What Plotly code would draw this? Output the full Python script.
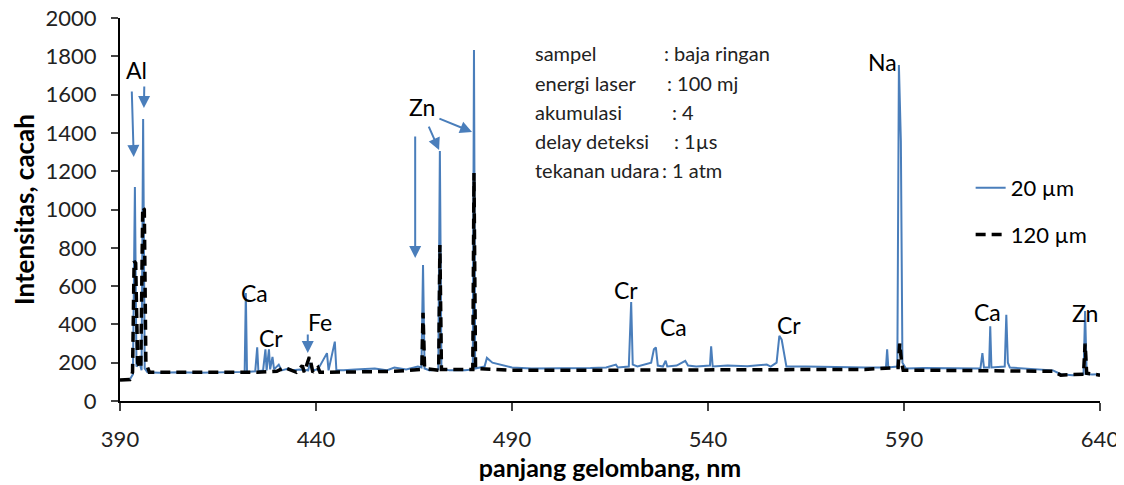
import plotly.graph_objects as go

# ---- data ----
wl_20 = [390.0, 392.5, 393.3, 393.8, 394.2, 395.0, 395.5, 395.9, 396.3, 397.0, 400, 405, 410, 415, 420,
         421.8, 422.1, 422.4, 424.5, 425.0, 425.3, 426.5, 427.1, 427.4, 428.0, 428.3, 428.9, 429.3, 430.5,
         431.2, 433, 434, 436, 438.0, 438.5, 439, 440.5, 442.8, 443.2, 444.8, 445.2, 447, 450, 455, 458,
         460, 463, 466, 466.9, 467.3, 467.7, 469, 471.2, 471.6, 472.0, 474, 478, 480.0, 480.3, 480.6, 483.0,
         483.6, 485, 487, 490, 495, 500, 505, 510, 514, 516.5, 517, 519.8, 520.4, 520.8, 522, 525.5, 526.2,
         526.7, 527.2, 528.5, 529.2, 529.6, 532, 533.5, 534.2, 534.9, 537, 540.5, 540.8, 541.2, 545, 550,
         553, 555, 556, 557.5, 558.2, 558.8, 559.4, 560, 565, 570, 575, 580, 585.4, 585.7, 586.0, 588.3,
         588.7, 589.2, 589.6, 590.5, 595, 600, 605, 609.5, 610, 610.4, 611.7, 612, 612.3, 615.7, 616.1,
         616.5, 617, 620, 625, 628, 630, 633, 635.8, 636.2, 636.6, 638, 640]
int_20 = [110, 112, 140, 1117, 180, 200, 160, 1472, 170, 150, 148, 150, 148, 150, 150,
          152, 564, 152, 155, 280, 155, 160, 270, 160, 270, 165, 230, 165, 190,
          160, 170, 160, 165, 160, 200, 160, 165, 250, 160, 310, 160, 160, 165, 170, 160,
          175, 165, 180, 175, 710, 170, 160, 165, 1305, 170, 160, 160, 165, 1833, 170, 180,
          225, 200, 190, 175, 170, 170, 170, 172, 175, 190, 175, 180, 517, 190, 180, 200, 270,
          280, 185, 180, 210, 180, 185, 200, 210, 185, 180, 185, 285, 180, 185, 182,
          185, 190, 180, 200, 340, 320, 250, 180, 180, 178, 175, 175, 175, 270, 175, 180,
          1755, 1358, 200, 170, 172, 170, 168, 170, 250, 175, 175, 390, 175, 180, 450,
          200, 175, 170, 165, 160, 140, 135, 140, 470, 140, 138, 140]

wl_120 = [390.0, 392.5, 393.2, 393.6, 394.0, 394.5, 395.3, 395.8, 396.2, 396.6, 397.5, 405, 415, 425,
          430, 432, 435, 436.5, 437, 438.3, 438.7, 439.2, 440.5, 441, 450, 460, 467.0, 467.3, 467.7,
          471.3, 471.6, 472.0, 480.0, 480.3, 480.7, 490, 500, 520, 540, 560, 580, 588.5, 588.9, 589.4,
          589.8, 600, 620, 628, 630, 635.8, 636.2, 636.6, 640]
int_120 = [110, 112, 150, 730, 720, 200, 170, 1013, 1000, 200, 150, 150, 150, 150,
           155, 175, 150, 185, 150, 230, 200, 150, 175, 150, 152, 155, 165, 460, 170,
           160, 815, 165, 165, 1190, 170, 160, 160, 162, 165, 165, 165, 175, 300, 200,
           160, 160, 158, 155, 135, 140, 300, 145, 135]

series_names = ["20 µm", "120 µm"]
x_ticks = [390, 440, 490, 540, 590, 640]

element_labels = ["Al", "Ca", "Cr", "Fe", "Zn", "Cr", "Ca", "Cr", "Na", "Ca", "Zn"]
element_x = [394.3, 424.2, 428.6, 441.0, 467.0, 519.1, 531.3, 560.7, 584.6, 611.2, 636.2]
element_y = [1728, 564, 329, 413, 1535, 580, 386, 397, 1770, 465, 460]

# arrows: (head x, head y, tail x, tail y)
arrow_head_x = [393.5, 396.1, 437.9, 465.3, 471.4, 479.8]
arrow_head_y = [1274, 1530, 251, 747, 1311, 1405]
arrow_tail_x = [393.0, 396.2, 437.9, 465.3, 468.6, 471.1]
arrow_tail_y = [1624, 1650, 355, 1389, 1441, 1478]

info_keys = ["sampel", "energi laser", "akumulasi", "delay deteksi", "tekanan udara"]
info_vals = [": baja ringan", ": 100 mj", ": 4", ": 1µs", ": 1 atm"]

BLUE = "#4a7ebb"
FONT = "Lato, 'Open Sans', sans-serif"

fig = go.Figure()
fig.add_trace(go.Scatter(x=wl_20, y=int_20, mode="lines", name=series_names[0],
                         line=dict(color=BLUE, width=2), legendgroup="a"))
fig.add_trace(go.Scatter(x=wl_120, y=int_120, mode="lines", name=series_names[1],
                         line=dict(color="black", width=3.5, dash="10px,6px"), legendgroup="b"))

for t, x, y in zip(element_labels, element_x, element_y):
    fig.add_annotation(x=x, y=y, text=t, showarrow=False, xref="x", yref="y",
                       font=dict(size=23, color="black", family=FONT))

for hx, hy, tx, ty in zip(arrow_head_x, arrow_head_y, arrow_tail_x, arrow_tail_y):
    fig.add_annotation(x=hx, y=hy, ax=tx, ay=ty, xref="x", yref="y", axref="x", ayref="y",
                       text="", showarrow=True, arrowhead=2, arrowsize=1.2, arrowwidth=2,
                       arrowcolor=BLUE)

line_y = [0.909, 0.830, 0.755, 0.679, 0.603]
for k, yy in zip(info_keys, line_y):
    fig.add_annotation(x=0.421, y=yy, xref="paper", yref="paper", text=k, showarrow=False,
                       xanchor="left", yanchor="middle", font=dict(size=20, color="#222", family=FONT))
for v, yy, xx in zip(info_vals, line_y, [0.553, 0.556, 0.561, 0.563, 0.551]):
    fig.add_annotation(x=xx, y=yy, xref="paper", yref="paper", text=v, showarrow=False,
                       xanchor="left", yanchor="middle", font=dict(size=20, color="#222", family=FONT))

# page body has an 8px margin, so the figure is sized/margined to compensate
fig.update_layout(
    width=1116, height=477,
    margin=dict(l=112, r=24, t=10, b=84),
    paper_bgcolor="white", plot_bgcolor="white",
    font=dict(family=FONT, color="black"),
    showlegend=True,
    legend=dict(x=0.868, y=0.611, xanchor="left", yanchor="top", bgcolor="rgba(0,0,0,0)",
                font=dict(size=22, family=FONT), tracegroupgap=15, traceorder="grouped"),
    xaxis=dict(range=[390, 640], tickvals=x_ticks, ticks="outside", ticklen=8, tickwidth=2,
               showline=True, linecolor="black", linewidth=2, showgrid=False, zeroline=False,
               automargin=False, ticklabelstandoff=10, ticklabeloverflow="allow",
               tickfont=dict(size=22, family=FONT, color="#222"),
               title=dict(text="<b>panjang gelombang, nm</b>", font=dict(size=25, family=FONT), standoff=8)),
    yaxis=dict(range=[0, 2000], dtick=200, ticks="outside", ticklen=7, tickwidth=2,
               showline=True, linecolor="black", linewidth=2, showgrid=False, zeroline=False,
               automargin=False, ticklabelstandoff=10, ticklabeloverflow="allow",
               tickfont=dict(size=22, family=FONT, color="#222"),
               title=dict(text="<b>Intensitas, cacah</b>", font=dict(size=26, family=FONT), standoff=8)),
)

fig.write_html("out.html")
